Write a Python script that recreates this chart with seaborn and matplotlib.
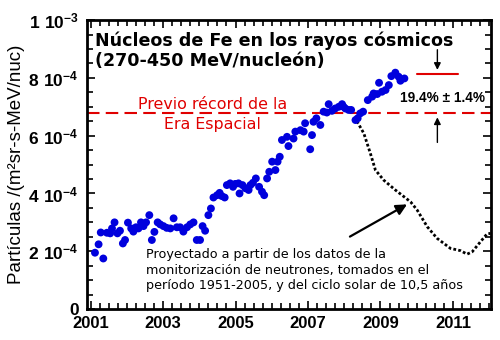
import matplotlib
matplotlib.use("Agg")
import matplotlib.pyplot as plt
import seaborn as sns
import pandas as pd
from matplotlib.ticker import MultipleLocator, FixedLocator

# ---- data (flux in units of 1e-4 particles/(m2 sr s MeV/nuc)) ----
obs_year = [2001.12, 2001.22, 2001.28, 2001.35, 2001.45, 2001.54, 2001.59, 2001.66, 2001.74, 2001.81,
            2001.89, 2001.95, 2002.03, 2002.12, 2002.18, 2002.25, 2002.32, 2002.39, 2002.46, 2002.53,
            2002.62, 2002.69, 2002.76, 2002.85, 2002.92, 2003.01, 2003.10, 2003.20, 2003.29, 2003.38,
            2003.47, 2003.56, 2003.66, 2003.75, 2003.84, 2003.93, 2004.02, 2004.09, 2004.16, 2004.25,
            2004.32, 2004.39, 2004.49, 2004.56, 2004.62, 2004.70, 2004.76, 2004.85, 2004.93, 2004.99,
            2005.08, 2005.11, 2005.19, 2005.27, 2005.36, 2005.41, 2005.48, 2005.56, 2005.65, 2005.73,
            2005.79, 2005.87, 2005.93, 2006.01, 2006.10, 2006.16, 2006.22, 2006.28, 2006.42, 2006.46,
            2006.60, 2006.65, 2006.79, 2006.88, 2006.92, 2007.06, 2007.11, 2007.15, 2007.23, 2007.34,
            2007.43, 2007.52, 2007.57, 2007.66, 2007.75, 2007.85, 2007.94, 2007.98, 2008.03, 2008.12,
            2008.19, 2008.31, 2008.37, 2008.44, 2008.52, 2008.65, 2008.77, 2008.81, 2008.91, 2008.96,
            2009.04, 2009.14, 2009.23, 2009.30, 2009.41, 2009.50, 2009.55, 2009.66]
obs_flux = [1.95, 2.24, 2.65, 1.75, 2.64, 2.62, 2.79, 3.00, 2.62, 2.71,
            2.27, 2.39, 2.99, 2.79, 2.68, 2.83, 2.79, 3.00, 2.87, 3.00,
            3.25, 2.39, 2.67, 3.00, 2.93, 2.87, 2.81, 2.79, 3.14, 2.83,
            2.83, 2.68, 2.83, 2.93, 3.00, 2.39, 2.39, 2.87, 2.71, 3.25,
            3.48, 3.86, 3.94, 4.02, 3.91, 3.86, 4.29, 4.35, 4.23, 4.33,
            4.35, 4.00, 4.29, 4.18, 4.12, 4.29, 4.37, 4.52, 4.23, 4.06,
            3.94, 4.52, 4.75, 5.10, 4.81, 5.10, 5.27, 5.85, 5.96, 5.64,
            5.90, 6.14, 6.19, 6.14, 6.43, 5.53, 6.02, 6.48, 6.60, 6.37,
            6.83, 6.80, 7.09, 6.86, 6.94, 7.00, 7.09, 7.00, 6.94, 6.89,
            6.89, 6.54, 6.60, 6.77, 6.83, 7.23, 7.35, 7.46, 7.44, 7.83,
            7.52, 7.58, 7.75, 8.06, 8.18, 8.04, 7.90, 7.98]

proj_year = [2008.35, 2008.54, 2008.72, 2008.86, 2009.09, 2009.41, 2009.83, 2010.01, 2010.29,
             2010.56, 2010.93, 2011.21, 2011.39, 2011.53, 2011.76, 2011.94, 2012.04]
proj_flux = [6.50, 6.08, 5.39, 4.81, 4.46, 4.12, 3.71, 3.43, 2.85,
             2.45, 2.10, 2.02, 1.90, 1.98, 2.33, 2.60, 2.62]

prev_record = 6.78      # previous Space Age record
new_record = 8.13       # new level
record_span = [2010.02, 2011.15]

ytick_vals = [0, 2, 4, 6, 8, 10]
ytick_labels = ["0", r"$\mathbf{2\ 10^{-4}}$", r"$\mathbf{4\ 10^{-4}}$", r"$\mathbf{6\ 10^{-4}}$",
                r"$\mathbf{8\ 10^{-4}}$", r"$\mathbf{1\ 10^{-3}}$"]
xtick_vals = [2001, 2003, 2005, 2007, 2009, 2011]

title_txt = "Núcleos de Fe en los rayos cósmicos\n(270-450 MeV/nucleón)"
record_txt = "Previo récord de la\nEra Espacial"
pct_txt = "19.4% ± 1.4%"
proj_txt = ("Proyectado a partir de los datos de la\n"
            "monitorización de neutrones, tomados en el\n"
            "período 1951-2005, y del ciclo solar de 10,5 años")
ylabel_txt = "Partículas /(m²sr-s-MeV/nuc)"

obs = pd.DataFrame({"year": obs_year, "flux": obs_flux})
proj = pd.DataFrame({"year": proj_year, "flux": proj_flux})

# ---- style ----
sns.set_theme(style="white")
plt.rcParams["font.family"] = ["DejaVu Sans"]
plt.rcParams["text.color"] = "black"
plt.rcParams["axes.labelcolor"] = "black"
plt.rcParams["xtick.color"] = "black"
plt.rcParams["ytick.color"] = "black"
plt.rcParams["mathtext.fontset"] = "custom"
plt.rcParams["mathtext.rm"] = "Liberation Sans"
plt.rcParams["mathtext.bf"] = "Liberation Sans:bold"

fig = plt.figure(figsize=(5, 3.4), dpi=100)
ax = fig.add_axes([0.174, 0.091, 0.808, 0.850])

red = "#e00000"
blue = "#0000dd"

ax.axhline(prev_record, color=red, lw=1.5, linestyle=(0, (6, 3)), zorder=1)
ax.plot(record_span, [new_record, new_record], color=red, lw=1.5, zorder=2)

sns.lineplot(data=proj, x="year", y="flux", ax=ax, color="black", lw=2.0,
             linestyle=(0, (1, 0.8)), estimator=None, sort=False, zorder=3)
sns.scatterplot(data=obs, x="year", y="flux", ax=ax, color=blue, s=32,
                edgecolor="none", linewidth=0, zorder=4)

ax.set_xlim(2000.9, 2012.05)
ax.set_ylim(0, 10)

ax.xaxis.set_major_locator(FixedLocator(xtick_vals))
ax.xaxis.set_minor_locator(MultipleLocator(0.25))
ax.yaxis.set_major_locator(FixedLocator(ytick_vals))
ax.yaxis.set_minor_locator(MultipleLocator(0.5))
ax.set_yticklabels(ytick_labels)
ax.set_xticklabels([str(v) for v in xtick_vals])

for lab in ax.get_xticklabels():
    lab.set_fontfamily("Liberation Sans")
    lab.set_fontweight("bold")
    lab.set_fontsize(12)
for lab in ax.get_yticklabels():
    lab.set_fontfamily("Liberation Sans")
    lab.set_fontweight("bold")
    lab.set_fontsize(12.5)

ax.tick_params(which="both", direction="in", top=True, right=True, bottom=True, left=True,
               color="black", width=1.2)
ax.tick_params(which="major", length=6)
ax.tick_params(which="minor", length=4)
ax.tick_params(axis="x", which="major", pad=5)
ax.tick_params(axis="y", which="major", pad=6)

for sp in ax.spines.values():
    sp.set_color("black")
    sp.set_linewidth(2)

ax.set_xlabel("")
ax.set_ylabel(ylabel_txt, fontfamily="Liberation Sans", fontsize=13.5, labelpad=2)

ax.text(0.02, 0.962, title_txt, transform=ax.transAxes, ha="left", va="top",
        fontsize=12.6, fontweight="bold", linespacing=1.15)
ax.text(2004.36, prev_record - 0.05, record_txt, ha="center", va="center", color=red,
        fontsize=11.4, linespacing=1.4)
ax.text(2010.71, 7.3, pct_txt, ha="center", va="center", fontsize=9.8,
        fontweight="bold", fontfamily="Liberation Sans")
ax.text(2002.54, 1.35, proj_txt, ha="left", va="center", fontsize=9.2, linespacing=1.25)

ax.annotate("", xy=(2010.57, new_record + 0.05), xytext=(2010.57, 9.07),
            arrowprops=dict(arrowstyle="-|>", color="black", lw=1, mutation_scale=10))
ax.annotate("", xy=(2010.57, prev_record - 0.05), xytext=(2010.57, 5.67),
            arrowprops=dict(arrowstyle="-|>", color="black", lw=1, mutation_scale=10))
ax.annotate("", xy=(2009.80, 3.67), xytext=(2008.09, 2.46),
            arrowprops=dict(arrowstyle="-|>", color="black", lw=1.6, mutation_scale=16))

fig.savefig("out.png", dpi=100)
